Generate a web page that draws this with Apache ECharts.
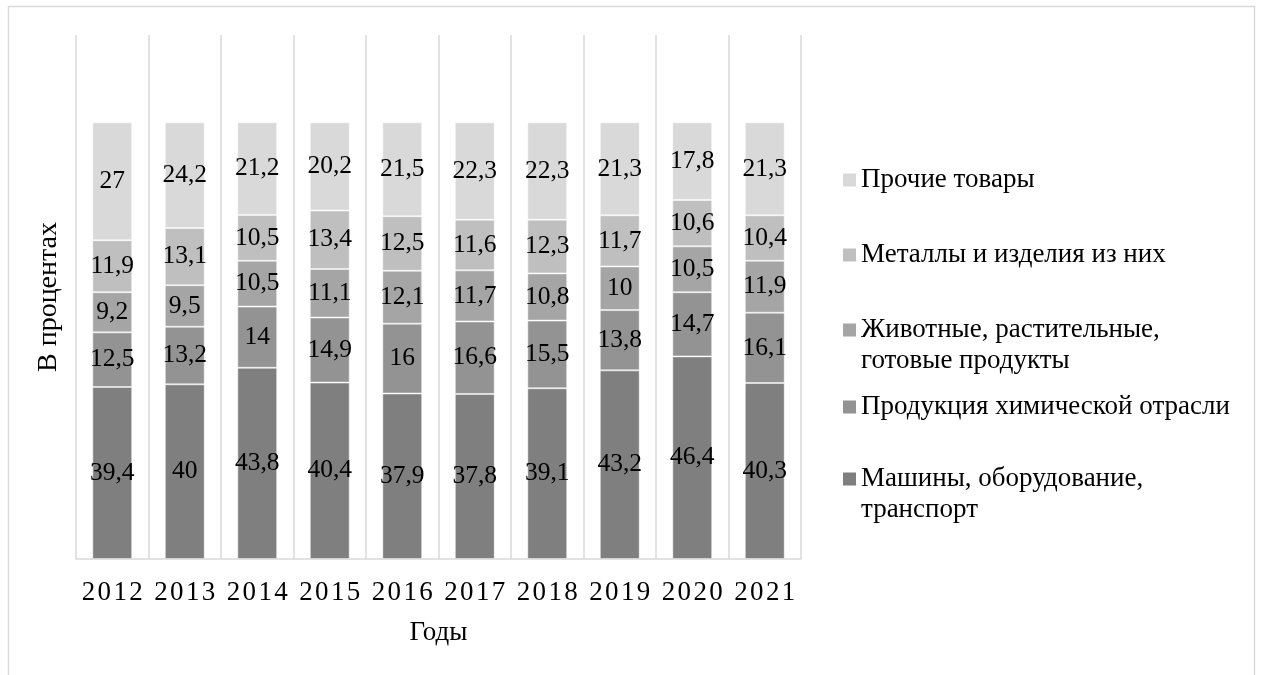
<!DOCTYPE html>
<html><head><meta charset="utf-8">
<script src="https://cdn.jsdelivr.net/npm/echarts@6/dist/echarts.min.js"></script>
<style>html,body{margin:0;padding:0;background:#fff}#c{width:1261px;height:675px}</style>
</head><body><div id="c"></div>
<script>
const years = ['2012','2013','2014','2015','2016','2017','2018','2019','2020','2021'];
const seriesNames = [
  'Машины, оборудование,\nтранспорт',
  'Продукция химической отрасли',
  'Животные, растительные,\nготовые продукты',
  'Металлы и изделия из них',
  'Прочие товары'
];
const machines = [39.4, 40, 43.8, 40.4, 37.9, 37.8, 39.1, 43.2, 46.4, 40.3];
const chemicals = [12.5, 13.2, 14, 14.9, 16, 16.6, 15.5, 13.8, 14.7, 16.1];
const foods = [9.2, 9.5, 10.5, 11.1, 12.1, 11.7, 10.8, 10, 10.5, 11.9];
const metals = [11.9, 13.1, 10.5, 13.4, 12.5, 11.6, 12.3, 11.7, 10.6, 10.4];
const others = [27, 24.2, 21.2, 20.2, 21.5, 22.3, 22.3, 21.3, 17.8, 21.3];
const values = [machines, chemicals, foods, metals, others];
const colors = ['#7f7f7f', '#939393', '#a5a5a5', '#bfbfbf', '#d9d9d9'];

const FONT = '"Liberation Serif","Times New Roman",serif';
const chart = echarts.init(document.getElementById('c'));

const LH = 31;
const firstLineCenters = [479, 407, 330, 255, 180];
const legends = seriesNames.map((n, i) => {
  const lines = n.split('\n').length;
  const h = LH * lines;
  // square at the top of a (possibly taller) icon box so it lines up with the first line
  const extra = (h / 13) * 10;
  return {
    data: [n], orient: 'vertical', left: 843, top: firstLineCenters[i] - LH / 2,
    itemWidth: 13, itemHeight: lines > 1 ? h : 13, itemGap: 0, padding: 0,
    icon: lines > 1 ? ('path://M0,' + ((LH - 13) / 2 / 1.3) + 'L10,' + ((LH - 13) / 2 / 1.3) + 'L10,' + ((LH - 13) / 2 / 1.3 + 10) + 'L0,' + ((LH - 13) / 2 / 1.3 + 10) + 'Z M0,0L0.001,0 M0,' + extra + 'L0.001,' + extra) : 'rect',
    itemStyle: { borderWidth: 0 },
    textStyle: { fontFamily: FONT, fontSize: 27, color: '#000', lineHeight: LH }
  };
});

chart.setOption({
  animation: false,
  graphic: [{ type: 'rect', shape: { x: 8.5, y: 6.5, width: 1246, height: 700 }, style: { fill: 'none', stroke: '#d9d9d9', lineWidth: 1.5 }, silent: true }],
  legend: legends,
  grid: { left: 76, right: 460, top: 35, bottom: 116 },
  xAxis: {
    type: 'category', data: years,
    name: 'Годы', nameLocation: 'middle', nameGap: 60,
    nameTextStyle: { fontFamily: FONT, fontSize: 27, color: '#000' },
    axisLine: { lineStyle: { color: '#d9d9d9', width: 1.5 } },
    axisTick: { show: false },
    axisLabel: { interval: 0, fontFamily: FONT, fontSize: 27, color: '#000', margin: 20,
      formatter: v => v.split('').map(c => '{d|' + c + '}').join(''),
      rich: { d: { fontFamily: FONT, fontSize: 27, color: '#000', padding: [0, 1.2, 0, 1.2] } } },
    splitLine: { show: true, interval: 0, lineStyle: { color: '#d9d9d9', width: 1.5 } }
  },
  yAxis: {
    type: 'value', min: 0, max: 120,
    name: 'В процентах', nameLocation: 'middle', nameGap: 13, nameRotate: 90,
    nameTextStyle: { fontFamily: FONT, fontSize: 28, color: '#000' },
    axisLine: { show: false }, axisTick: { show: false }, axisLabel: { show: false },
    splitLine: { show: false }
  },
  series: seriesNames.map((n, i) => ({
    name: n, type: 'bar', stack: 'total', barWidth: '55%',
    data: values[i],
    itemStyle: { color: colors[i], borderColor: 'rgba(255,255,255,0.45)', borderWidth: 1 },
    label: { show: true, position: 'inside', fontFamily: FONT, fontSize: 25.5, color: '#000',
      formatter: p => String(p.value).replace('.', ',') }
  }))
});
</script></body></html>
